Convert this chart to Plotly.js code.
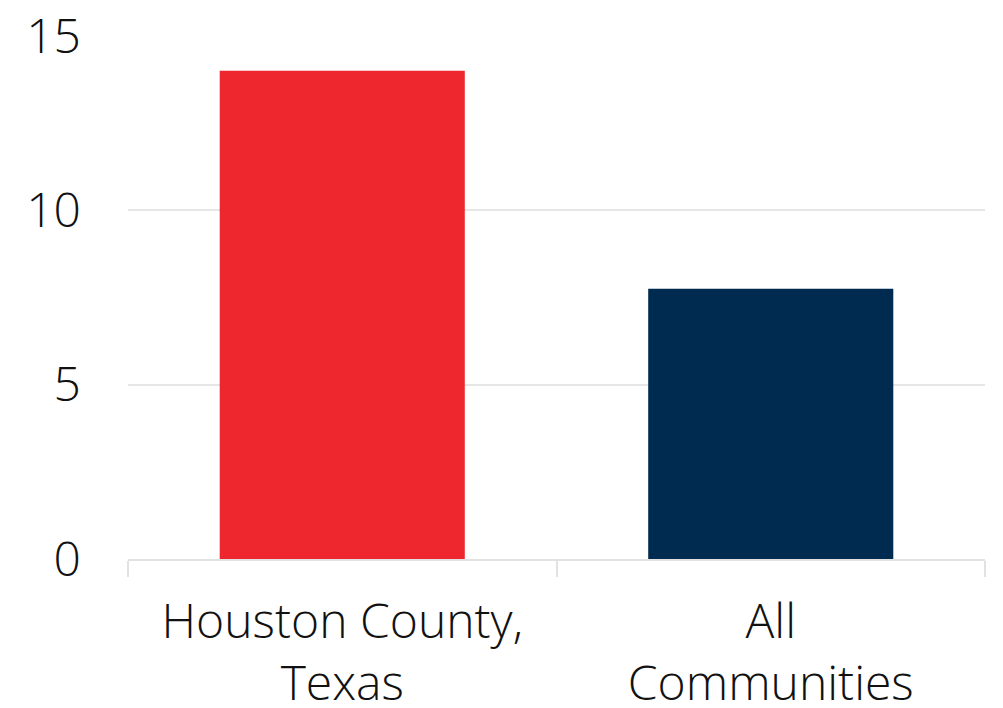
<!DOCTYPE html>
<html>
<head>
<meta charset="utf-8">
<script src="https://cdn.plot.ly/plotly-3.0.1.min.js"></script>
<style>html,body{margin:0;padding:0;background:#fff;}#chart{width:1003px;height:708px;}</style>
</head>
<body>
<div id="chart"></div>
<script>
const categories = ["Houston County,<br>Texas", "All<br>Communities"];
const values = [14.0, 7.75];
const barColors = ["#ee272e", "#002b50"];
const yTicks = [0, 5, 10, 15];

const trace = {
  type: "bar",
  x: categories,
  y: values,
  marker: {color: barColors},
  hoverinfo: "none"
};

const font = {family: "'Open Sans', Lato, sans-serif", size: 48, color: "#111111", weight: 300};

const layout = {
  width: 1003, height: 708,
  margin: {l: 128, r: 18, t: 36, b: 149},
  paper_bgcolor: "#ffffff",
  plot_bgcolor: "#ffffff",
  bargap: 0.428,
  showlegend: false,
  font: font,
  xaxis: {
    type: "category",
    tickson: "boundaries",
    ticks: "outside",
    ticklen: 16,
    tickwidth: 2,
    tickcolor: "#e2e2e2",
    showline: true,
    linecolor: "#e2e2e2",
    linewidth: 2,
    showgrid: false,
    zeroline: false,
    tickfont: font,
    ticklabelstandoff: 19
  },
  yaxis: {
    range: [0, 15],
    tickvals: yTicks,
    ticktext: yTicks.map(String),
    showgrid: true,
    gridcolor: "#e6e6e6",
    gridwidth: 2,
    zeroline: false,
    showline: false,
    ticks: "",
    tickfont: font,
    ticklabelstandoff: 46
  }
};

Plotly.newPlot("chart", [trace], layout, {displayModeBar: false, staticPlot: true});
</script>
</body>
</html>
